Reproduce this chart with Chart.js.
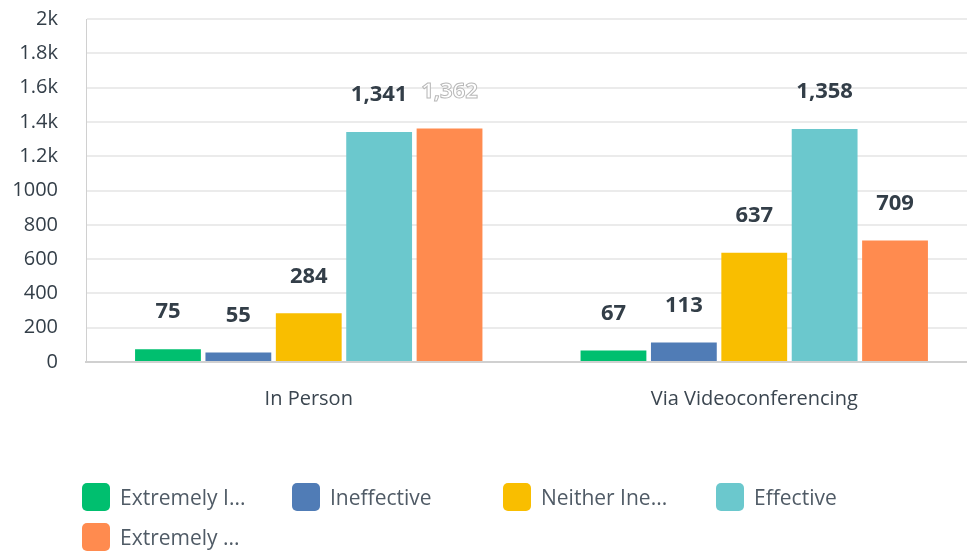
<!DOCTYPE html>
<html><head><meta charset="utf-8">
<script src="https://cdn.jsdelivr.net/npm/chart.js@4/dist/chart.umd.min.js"></script>
<style>
html,body{margin:0;padding:0;background:#fff;overflow:hidden;width:967px;height:552px;}
#wrap{position:absolute;left:0;top:-21px;width:977px;height:441px;}
#legend{position:absolute;left:0;top:0;width:967px;height:552px;pointer-events:none;font-family:"Open Sans",sans-serif;}
.li{position:absolute;display:flex;align-items:center;height:28px;font-size:21px;color:#505b66;white-space:nowrap;}
.sw{width:28px;height:28px;border-radius:5px;margin-right:10px;}
</style></head>
<body>
<div id="wrap"><canvas id="c"></canvas></div>
<div id="legend"></div>
<script>
const categories = ["In Person", "Via Videoconferencing"];
const seriesNames = ["Extremely Ineffective", "Ineffective", "Neither Ineffective nor Effective", "Effective", "Extremely Effective"];
const legendLabels = ["Extremely I...", "Ineffective", "Neither Ine...", "Effective", "Extremely ..."];
const extremelyIneffective = [75, 67];
const ineffective = [55, 113];
const neither = [284, 637];
const effective = [1341, 1358];
const extremelyEffective = [1362, 709];
const yTickLabels = {0:"0",200:"200",400:"400",600:"600",800:"800",1000:"1000",1200:"1.2k",1400:"1.4k",1600:"1.6k",1800:"1.8k",2000:"2k"};

const colors = ["#00bf6f", "#507cb6", "#f9be00", "#6bc8cd", "#ff8b4f"];
const seriesValues = [extremelyIneffective, ineffective, neither, effective, extremelyEffective];
const outlined = {ds: 4, idx: 0};
const FONT = '"Open Sans", sans-serif';

const labelPlugin = {
  id: 'barLabels',
  afterDatasetsDraw(chart) {
    const ctx = chart.ctx;
    ctx.save();
    ctx.font = 'bold 22px ' + FONT;
    ctx.textAlign = 'center';
    ctx.textBaseline = 'middle';
    chart.data.datasets.forEach((ds, di) => {
      chart.getDatasetMeta(di).data.forEach((bar, i) => {
        const txt = ds.data[i].toLocaleString('en-US');
        const y = bar.y - 37;
        if (di === outlined.ds && i === outlined.idx) {
          ctx.fillStyle = '#ffffff';
          ctx.fillText(txt, bar.x, y);
          ctx.lineWidth = 1;
          ctx.strokeStyle = '#b8b8b8';
          ctx.strokeText(txt, bar.x, y);
        } else {
          ctx.fillStyle = '#333e48';
          ctx.fillText(txt, bar.x, y);
        }
      });
    });
    ctx.restore();
  }
};

new Chart(document.getElementById('c'), {
  type: 'bar',
  data: {
    labels: categories,
    datasets: seriesNames.map((n, i) => ({
      label: n, data: seriesValues[i], backgroundColor: colors[i],
      barPercentage: 0.935, categoryPercentage: 0.79
    }))
  },
  options: {
    responsive: true, maintainAspectRatio: false, animation: false,
    layout: {padding: {top: 0, right: 0, bottom: 0, left: 0}},
    plugins: {legend: {display: false}, tooltip: {enabled: false}},
    scales: {
      x: {
        grid: {display: false, drawTicks: false},
        border: {color: '#d0d0d0', width: 2},
        ticks: {padding: 25, color: '#3b4650', font: {family: FONT, size: 20}},
        afterFit(s) { s.height = 58; }
      },
      y: {
        min: 0, max: 2000,
        grid: {color: '#ebebeb', lineWidth: 2, drawTicks: false},
        border: {color: '#d0d0d0', width: 1},
        ticks: {stepSize: 200, padding: 28, color: '#333e48',
          font: {family: FONT, size: 20},
          callback: v => yTickLabels[v]},
        afterFit(s) { s.width = 86; }
      }
    }
  },
  plugins: [labelPlugin]
});

const pos = [[82,483],[292,483],[503,483],[716,483],[82,523]];
const lg = document.getElementById('legend');
legendLabels.forEach((t, i) => {
  const d = document.createElement('div');
  d.className = 'li';
  d.style.left = pos[i][0] + 'px';
  d.style.top = pos[i][1] + 'px';
  d.innerHTML = '<span class="sw" style="background:' + colors[i] + '"></span><span>' + t + '</span>';
  lg.appendChild(d);
});
</script>
</body></html>
